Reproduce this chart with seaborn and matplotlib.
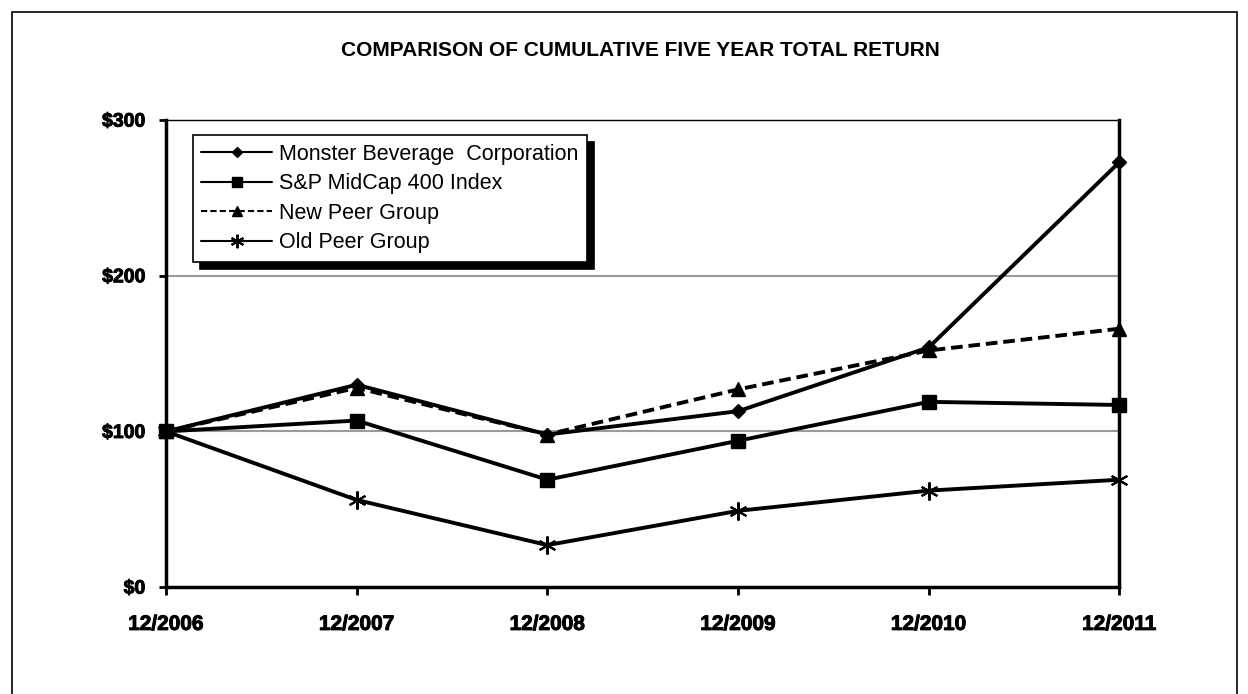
import pandas as pd
import matplotlib.pyplot as plt
import matplotlib.patheffects as pe
import seaborn as sns
from matplotlib.patches import Rectangle
from matplotlib.ticker import FuncFormatter

# values
years = ['12/2006', '12/2007', '12/2008', '12/2009', '12/2010', '12/2011']
monster = [100, 130, 98, 113, 154, 273]
sp400 = [100, 107, 69, 94, 119, 117]
new_peer = [100, 128, 98, 127, 152, 166]
old_peer = [100, 56, 27, 49, 62, 69]

series = {
    'Monster Beverage  Corporation': monster,
    'S&P MidCap 400 Index': sp400,
    'New Peer Group': new_peer,
    'Old Peer Group': old_peer,
}
styles = {
    'Monster Beverage  Corporation': dict(marker='D', markersize=7, linestyle='-'),
    'S&P MidCap 400 Index': dict(marker='s', markersize=10, linestyle='-'),
    'New Peer Group': dict(marker='^', markersize=10, linestyle=(0, (3, 1.5))),
    'Old Peer Group': dict(marker=(6, 2, 0), markersize=13, linestyle='-', markeredgewidth=1.5),
}

sns.set_theme(style='white')
plt.rcParams['font.family'] = ['Liberation Sans', 'DejaVu Sans']
plt.rcParams['text.color'] = 'black'
plt.rcParams['xtick.color'] = 'black'
plt.rcParams['ytick.color'] = 'black'
plt.rcParams['axes.labelcolor'] = 'black'

fig = plt.figure(figsize=(12.48, 6.94), dpi=100)
ax = fig.add_axes([0.133, 0.154, 0.764, 0.673])

x = list(range(len(years)))
for name, vals in series.items():
    df = pd.DataFrame({'x': x, 'y': vals})
    st = styles[name]
    sns.lineplot(data=df, x='x', y='y', ax=ax, color='black', linewidth=2.8,
                 marker=st['marker'], markersize=st['markersize'],
                 markeredgecolor='black', markerfacecolor='black',
                 markeredgewidth=st.get('markeredgewidth', 1),
                 linestyle=st['linestyle'], label=name, clip_on=False, zorder=5)

ax.set_xlim(0, len(years) - 1)
ax.set_ylim(0, 300)
ax.set_yticks([0, 100, 200, 300])
ax.yaxis.set_major_formatter(FuncFormatter(lambda v, p: f'${v:.0f}'))
ax.set_xticks(x)
ax.set_xticklabels(years)
ax.set_xlabel('')
ax.set_ylabel('')
heavy = [pe.withStroke(linewidth=0.7, foreground='black')]
for lab in ax.get_xticklabels():
    lab.set_fontweight('bold')
    lab.set_fontsize(15)
    lab.set_path_effects(heavy)
for lab in ax.get_yticklabels():
    lab.set_fontweight('bold')
    lab.set_fontsize(14)
    lab.set_path_effects(heavy)
ax.tick_params(axis='x', which='major', direction='out', length=6, width=2, color='black', pad=14)
ax.tick_params(axis='y', which='major', direction='out', length=5, width=2, color='black', pad=10)
ax.tick_params(bottom=True, left=True)

for v in [100, 200]:
    ax.axhline(v, color='#9a9a9a', linewidth=1.5, zorder=0)

for side in ['left', 'bottom', 'right']:
    ax.spines[side].set_linewidth(2.5)
    ax.spines[side].set_color('black')
ax.spines['top'].set_linewidth(1)
ax.spines['top'].set_color('black')

leg = ax.legend(loc='upper left', bbox_to_anchor=(0.028, 0.968), borderaxespad=0,
                frameon=True, fancybox=False,
                shadow={'color': 'black', 'alpha': 1, 'ox': 5, 'oy': -5},
                edgecolor='black', fontsize=15.5, handlelength=3.3,
                borderpad=0.4, labelspacing=0.4, handletextpad=0.3)
leg.get_frame().set_linewidth(1.2)
leg.set_zorder(10)
for t in leg.get_texts():
    t.set_color('black')
for h in leg.legend_handles:
    h.set_linewidth(1.5)
    h.set_markersize(h.get_markersize() * 0.75)

fig.text(0.513, 0.927, 'COMPARISON OF CUMULATIVE FIVE YEAR TOTAL RETURN',
         ha='center', va='center', fontsize=15, fontweight='bold')

# outer frame around the chart
fig.patches.append(Rectangle((12 / 1248, -0.05), 1225 / 1248, 1 - 12 / 694 + 0.05,
                             transform=fig.transFigure, fill=False,
                             edgecolor='black', linewidth=1.2))

fig.savefig('out.png', dpi=100)
